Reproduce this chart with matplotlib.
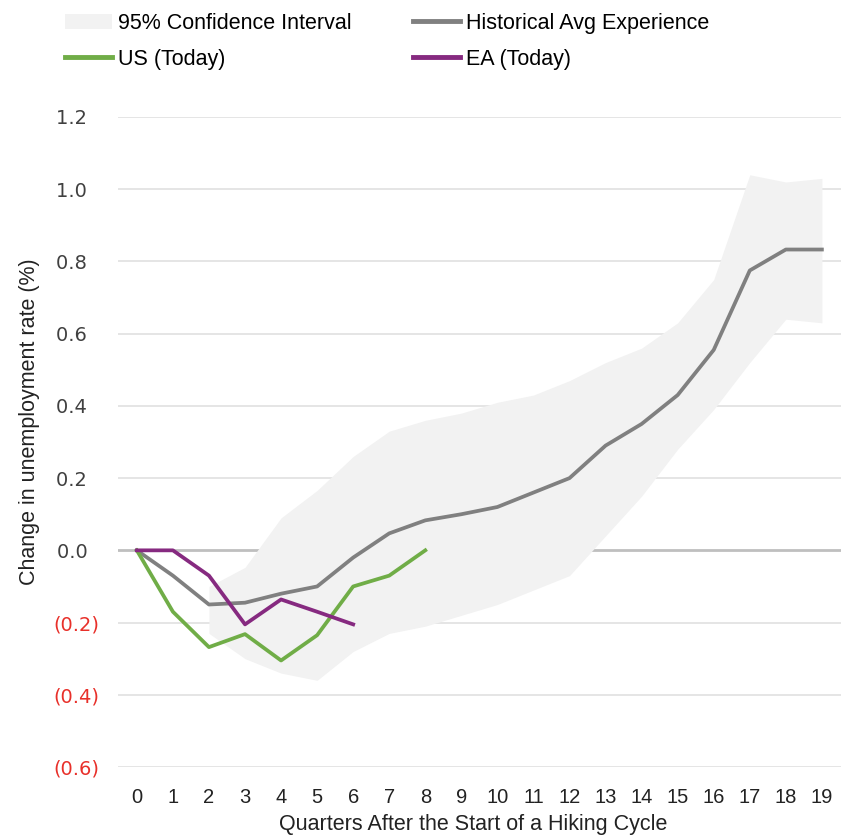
import matplotlib.pyplot as plt
from matplotlib.patches import Patch
from matplotlib.lines import Line2D

plt.rcParams['font.family'] = ['Liberation Sans', 'DejaVu Sans']

quarters = list(range(20))
hist_avg = [0.0, -0.07, -0.15, -0.145, -0.12, -0.10, -0.02, 0.047, 0.083, 0.10,
            0.12, 0.16, 0.20, 0.29, 0.35, 0.43, 0.555, 0.775, 0.833, 0.833]
us_today = [0.0, -0.17, -0.268, -0.232, -0.305, -0.235, -0.10, -0.07, 0.0]
ea_today = [0.0, 0.0, -0.07, -0.205, -0.136, -0.17, -0.205]

# confidence band starts at quarter 2
band_x = list(range(2, 20))
band_hi = [-0.10, -0.047, 0.09, 0.166, 0.26, 0.33, 0.36, 0.38, 0.41, 0.43,
           0.47, 0.52, 0.56, 0.63, 0.75, 1.04, 1.02, 1.03]
band_lo = [-0.23, -0.30, -0.34, -0.36, -0.28, -0.23, -0.21, -0.18, -0.15, -0.11,
           -0.07, 0.04, 0.15, 0.28, 0.39, 0.52, 0.64, 0.63]

y_ticks = [-0.6, -0.4, -0.2, 0.0, 0.2, 0.4, 0.6, 0.8, 1.0, 1.2]

c_band = '#f2f2f2'
c_hist = '#808080'
c_us = '#70ad47'
c_ea = '#862a80'

fig = plt.figure(figsize=(8.41, 8.38), dpi=100)
ax = fig.add_axes([0.14, 0.0847, 0.86, 0.7757])

for y in y_ticks:
    ax.axhline(y, color='#bfbfbf' if y == 0 else '#e3e3e3', lw=2 if y == 0 else 1.3, zorder=0)

ax.fill_between(band_x, band_lo, band_hi, color=c_band, lw=0, zorder=1)
ax.plot(quarters, hist_avg, color=c_hist, lw=2.7, zorder=3)
ax.plot(quarters[:len(us_today)], us_today, color=c_us, lw=2.7, zorder=4)
ax.plot(quarters[:len(ea_today)], ea_today, color=c_ea, lw=2.7, zorder=5)

ax.set_xlim(-0.53, 19.53)
ax.set_ylim(-0.6, 1.2)
ax.set_xticks(quarters)
ax.set_xticklabels([str(q) for q in quarters], fontsize=14.5, color='#222222')
ax.set_yticks(y_ticks)
# accounting style: negatives in red brackets, positives padded on the right
labels = ['({:.1f})'.format(-y) if y < 0 else '{:.1f}\u2007'.format(y) for y in y_ticks]
ax.set_yticklabels(labels, family=['DejaVu Sans'], fontsize=14)
for lab, y in zip(ax.get_yticklabels(), y_ticks):
    lab.set_color('#e8302a' if y < 0 else '#404040')
ax.tick_params(axis='y', length=0, pad=13)
ax.tick_params(axis='x', length=0, pad=15)
for s in ax.spines.values():
    s.set_visible(False)

ax.set_xlabel('Quarters After the Start of a Hiking Cycle', fontsize=15.5, color='#222222')
ax.xaxis.set_label_coords(0.491, -0.072)
ax.set_ylabel('Change in unemployment rate (%)', fontsize=15.5, color='#222222')
ax.yaxis.set_label_coords(-0.107, 0.532)

# two legend columns placed separately
leg_kw = dict(loc='upper left', frameon=False, fontsize=15.5, handlelength=2.2,
              handletextpad=0.25, labelspacing=0.7, borderpad=0, borderaxespad=0)
leg1 = fig.legend([Patch(facecolor=c_band, edgecolor='none'), Line2D([], [], color=c_us, lw=3.5)],
                  ['95% Confidence Interval', 'US (Today)'],
                  bbox_to_anchor=(0.077, 0.985), **leg_kw)
leg2 = fig.legend([Line2D([], [], color=c_hist, lw=3.5), Line2D([], [], color=c_ea, lw=3.5)],
                  ['Historical Avg Experience', 'EA (Today)'],
                  bbox_to_anchor=(0.491, 0.985), **leg_kw)

fig.savefig('out.png', dpi=100)
